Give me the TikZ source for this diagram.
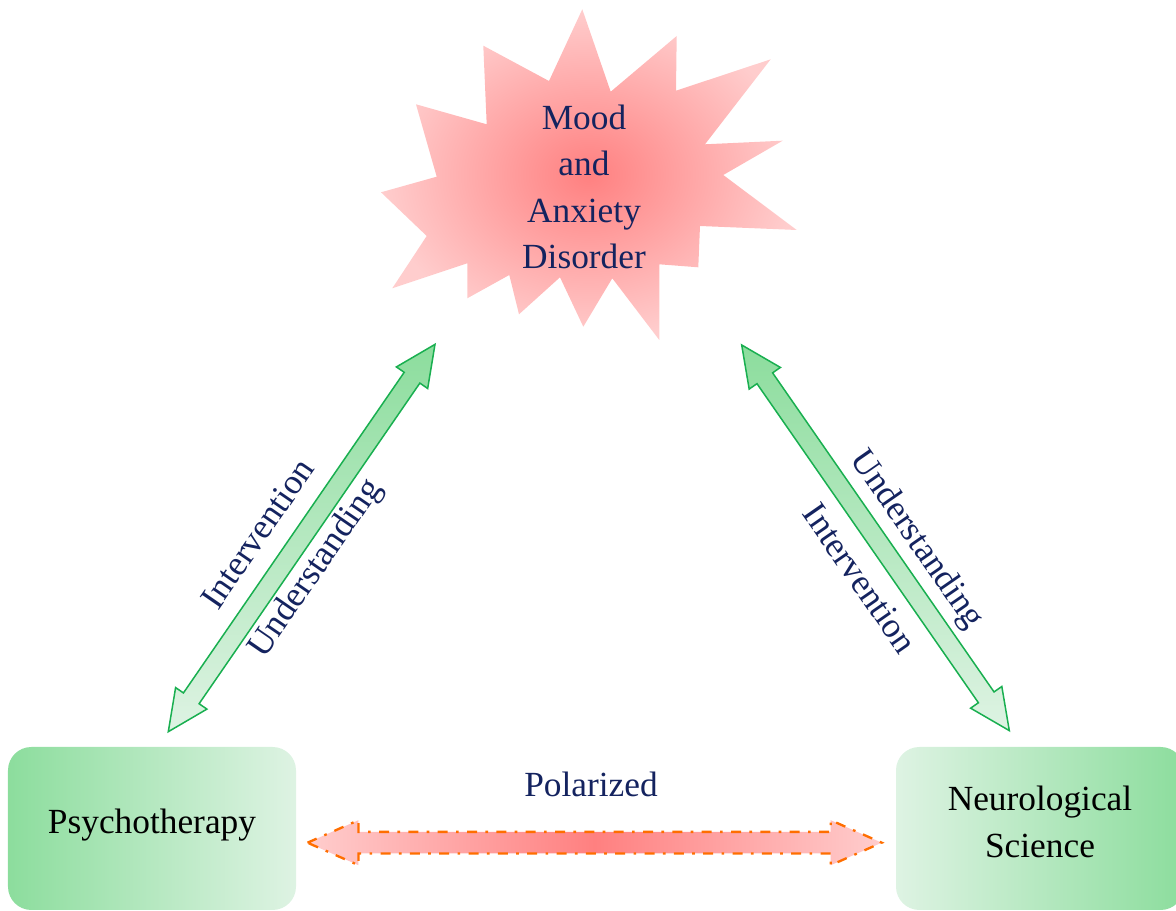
\documentclass[tikz,border=0pt]{standalone}
\usepackage{fontspec}
\setmainfont{Liberation Serif}
\usetikzlibrary{calc}
\definecolor{navy}{RGB}{20,35,95}
\definecolor{gdark}{RGB}{140,221,157}
\definecolor{glight}{RGB}{222,243,227}
\definecolor{gborder}{RGB}{25,175,80}
\definecolor{pinkc}{RGB}{255,128,128}
\definecolor{pinko}{RGB}{255,205,205}
\definecolor{orng}{RGB}{255,110,0}
\tikzset{
  lbl/.style={text=navy, inner sep=1pt},
  greenarrow/.style={top color=gdark, bottom color=glight, draw=gborder, line width=0.45pt, line join=miter},
  redarrow/.style={left color=pinko, right color=pinko, middle color=pinkc, draw=orng,
    dash pattern=on 3pt off 2.5pt on 0.8pt off 2.5pt, line width=0.7pt},
  boxnode/.style={rounded corners=7pt, minimum width=288*0.3pt, minimum height=163*0.3pt, inner sep=0pt},
}
\begin{document}
\begin{tikzpicture}[x=0.3pt,y=-0.3pt, font=\fontsize{10.6}{13.9}\selectfont]
\useasboundingbox (0,0) rectangle (1176,911);

% starburst
\shade[inner color=pinkc, outer color=pinko]
 (582.3,9.3) -- (610.7,91.7) -- (676.7,36) -- (676,90.7) -- (770.7,59.3) --
 (705,144.3) -- (782.7,140.7) -- (723.3,175) -- (796.7,230) -- (700,226) --
 (698.3,267.3) -- (659.3,264.3) -- (659.3,340) -- (612.3,278.3) -- (583.3,326.7) --
 (560,277.3) -- (519,314.3) -- (509.3,275) -- (467.3,298.3) -- (467.3,263.3) --
 (392.3,288.3) -- (426.7,236) -- (381,192.3) -- (436.7,176.7) -- (416,104.3) --
 (486.7,124.3) -- (483.3,45.7) -- (549,81) -- cycle;
\node[lbl, align=center] (mood) at (584,187) {Mood\\and\\Anxiety\\Disorder};

% boxes
\node[boxnode, left color=gdark, right color=glight] (psy) at (152,828.5) {};
\node[inner sep=1pt] (psyt) at (152,825) {Psychotherapy};
\node[boxnode, left color=glight, right color=gdark] (neu) at (1040,828.5) {};
\node[inner sep=1pt, align=center] (neut) at (1040,822) {Neurological\\Science};

% green arrows
\coordinate (la) at (168.3,731.7);
\coordinate (ra) at (741.7,345);
\begin{scope}[shift={(la)}, rotate=55.45]
  \shade[greenarrow] (0,0) -- (40.5,19) -- (40.5,9.5) -- (429.8,9.5) -- (429.8,19) --
    (470.3,0) -- (429.8,-19) -- (429.8,-9.5) -- (40.5,-9.5) -- (40.5,-19) -- cycle;
\end{scope}
\begin{scope}[shift={(ra)}, rotate=-55.24]
  \shade[greenarrow] (0,0) -- (40.5,19) -- (40.5,9.5) -- (428.9,9.5) -- (428.9,19) --
    (469.4,0) -- (428.9,-19) -- (428.9,-9.5) -- (40.5,-9.5) -- (40.5,-19) -- cycle;
\end{scope}
\node[lbl, rotate=55.45] (intl) at (257.5,533.5) {Intervention};
\node[lbl, rotate=55.45] (undl) at (316.5,569) {Understanding};
\node[lbl, rotate=-55.24] (undr) at (915.8,540) {Understanding};
\node[lbl, rotate=-55.24] (intr) at (860,578.3) {Intervention};

% polarized arrow
\coordinate (pa) at (307.5,842.7);
\begin{scope}[shift={(pa)}]
  \shade[redarrow] (0,0) -- (51,-22.5) -- (51,-10.8) -- (523.2,-10.8) -- (523.2,-22.5) --
    (574.2,0) -- (523.2,22.5) -- (523.2,10.8) -- (51,10.8) -- (51,22.5) -- cycle;
\end{scope}
\node[lbl, anchor=base] (pol) at (591,797) {Polarized};
\end{tikzpicture}
\end{document}
